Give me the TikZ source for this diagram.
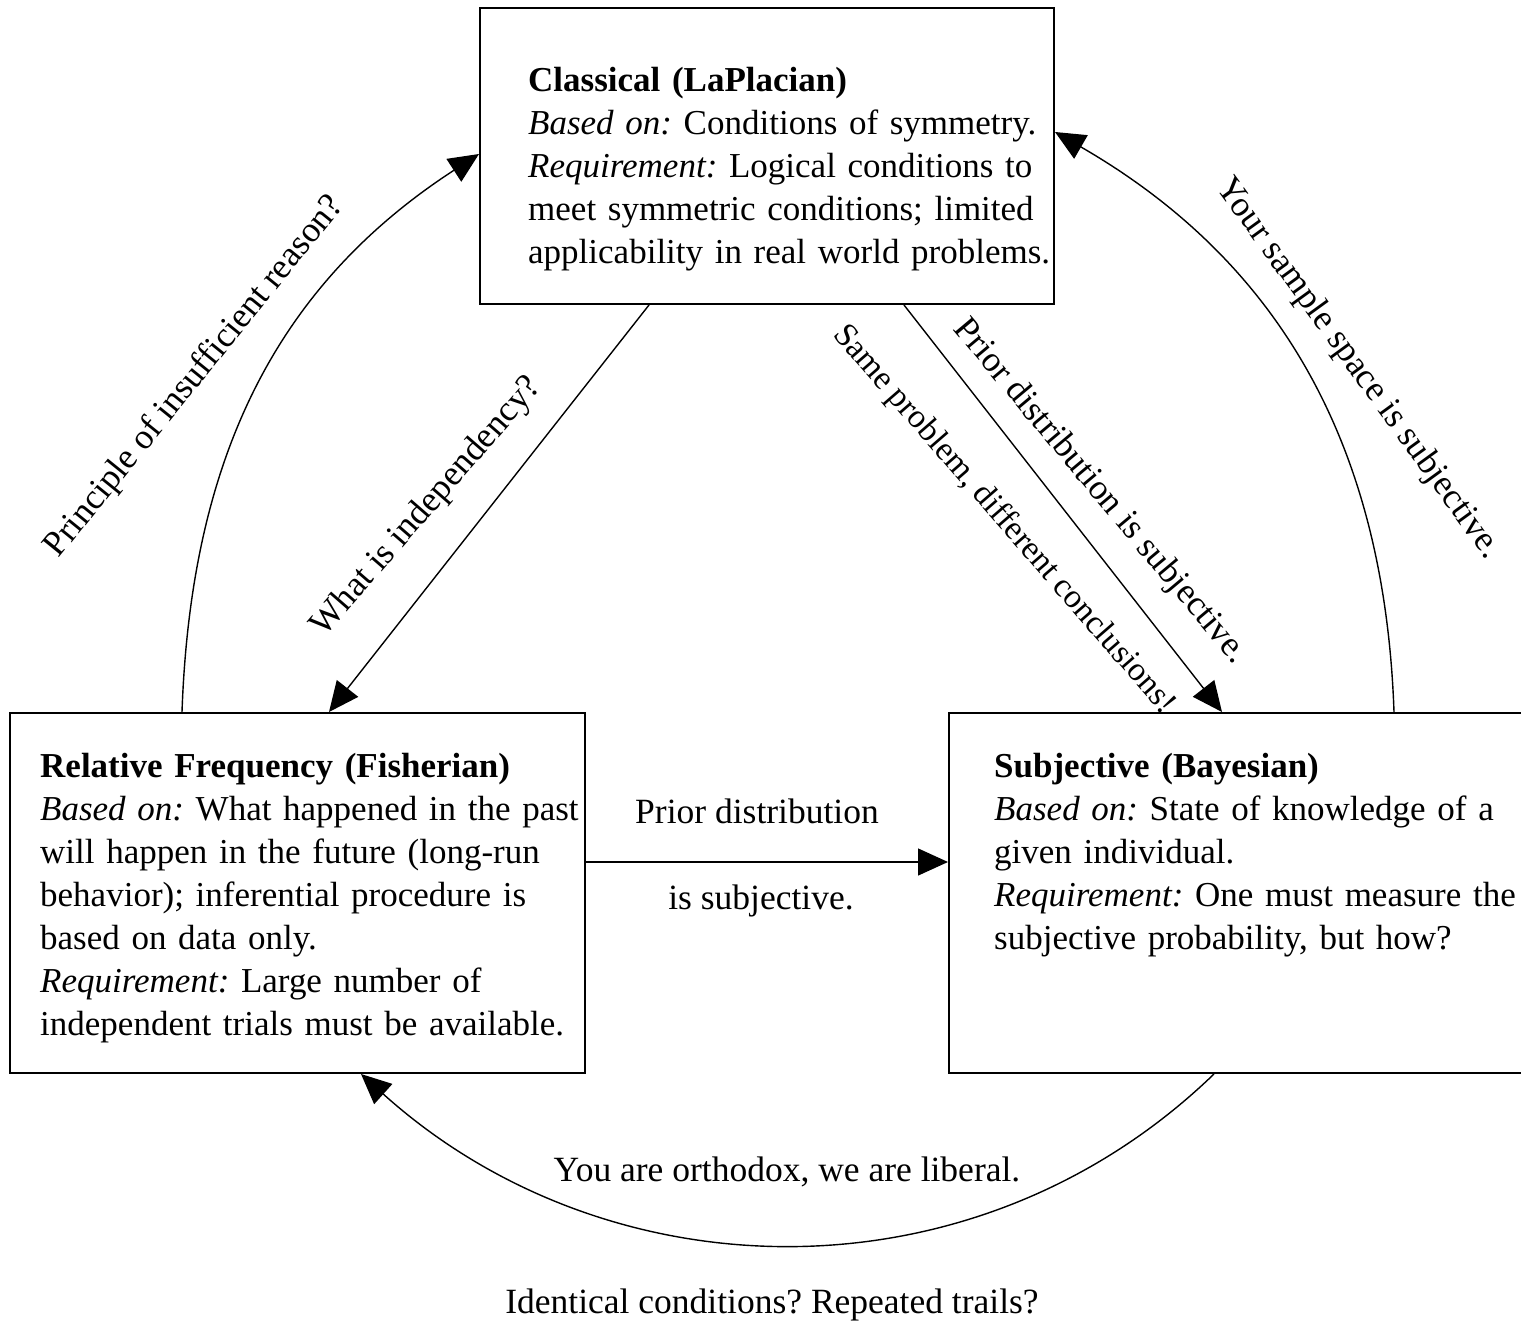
\documentclass[tikz,border=0pt]{standalone}
\usepackage{fontspec}
\setmainfont{Liberation Serif}
\usetikzlibrary{arrows.meta,calc}
\newcommand\bigfs{\fontsize{35.5}{43}\selectfont\frenchspacing}
\newcommand\bodyfs{\fontsize{35}{43}\selectfont\frenchspacing}
\newcommand\smallerfs{\fontsize{33.5}{40}\selectfont\frenchspacing}
\begin{document}
\begin{tikzpicture}[x=1pt,y=1pt,
  boxnode/.style={draw, line width=2pt, rectangle, inner sep=0pt},
  body/.style={anchor=base west, inner sep=0pt, text width=620pt, align=left, font=\bodyfs},
  lab/.style={inner sep=0pt, font=\bigfs},
  conn/.style={line width=1.4pt, -{Triangle[length=30pt,width=27pt]}}]
\useasboundingbox (0,0) rectangle (1521,-1321);
\clip (0,0) rectangle (1521,-1321);
\fill[white] (0,0) rectangle (1521,-1321);

% boxes
\node[boxnode, minimum width=574pt, minimum height=296pt] (cl) at (767,-156) {};
\node[boxnode, minimum width=575pt, minimum height=360pt] (rf) at (297.5,-893) {};
\node[boxnode, minimum width=591pt, minimum height=360pt] (sj) at (1244.5,-893) {};

% box texts
\node[body] (clt) at (528,-92) {\textbf{Classical (LaPlacian)}\\
\textit{Based on:} Conditions of symmetry.\\
\textit{Requirement:} Logical conditions to\\
meet symmetric conditions; limited\\
applicability in real world problems.};
\node[body] (rft) at (40,-777) {\textbf{Relative Frequency (Fisherian)}\\
\textit{Based on:} What happened in the past\\
will happen in the future (long-run\\
behavior); inferential procedure is\\
based on data only.\\
\textit{Requirement:} Large number of\\
independent trials must be available.};
\node[body] (sjt) at (994,-777) {\textbf{Subjective (Bayesian)}\\
\textit{Based on:} State of knowledge of a\\
given individual.\\
\textit{Requirement:} One must measure the\\
subjective probability, but how?};

% connectors
\draw[conn] ([xshift=173pt]rf.north west) to[out=88,in=213] ([yshift=-147pt]cl.north west);
\draw[conn] ([xshift=446pt]sj.north west) to[out=92,in=-30] ([yshift=-125pt]cl.north east);
\draw[conn] ([xshift=266pt]sj.south west) to[out=-136,in=-42] ([xshift=352pt]rf.south west);
\draw[conn] ([xshift=170pt]cl.south west) -- ([xshift=320pt]rf.north west);
\draw[conn] ([xshift=425pt]cl.south west) -- ([xshift=274pt]sj.north west);
\draw[conn] ([yshift=31pt]rf.east) -- ([yshift=31pt]sj.west);

% labels
\node[lab, rotate=51] (lprin) at (195,-377) {Principle of insufficient reason?};
\node[lab, rotate=49] (lwhat) at (427,-507) {What is independency?};
\node[lab, rotate=-49, font=\smallerfs] (lsame) at (1004,-520) {Same problem, different conclusions!};
\node[lab, rotate=-50] (lprior) at (1100,-492) {Prior distribution is subjective.};
\node[lab, rotate=-54] (lyour) at (1358,-369) {Your sample space is subjective.};
\node[lab, anchor=base] (lpd1) at (757,-823) {Prior distribution};
\node[lab, anchor=base] (lpd2) at (761,-909) {is subjective.};
\node[lab, anchor=base] (lorth) at (787,-1181) {You are orthodox, we are liberal.};
\node[lab, anchor=base] (lident) at (772,-1313) {Identical conditions? Repeated trails?};
\end{tikzpicture}
\end{document}
